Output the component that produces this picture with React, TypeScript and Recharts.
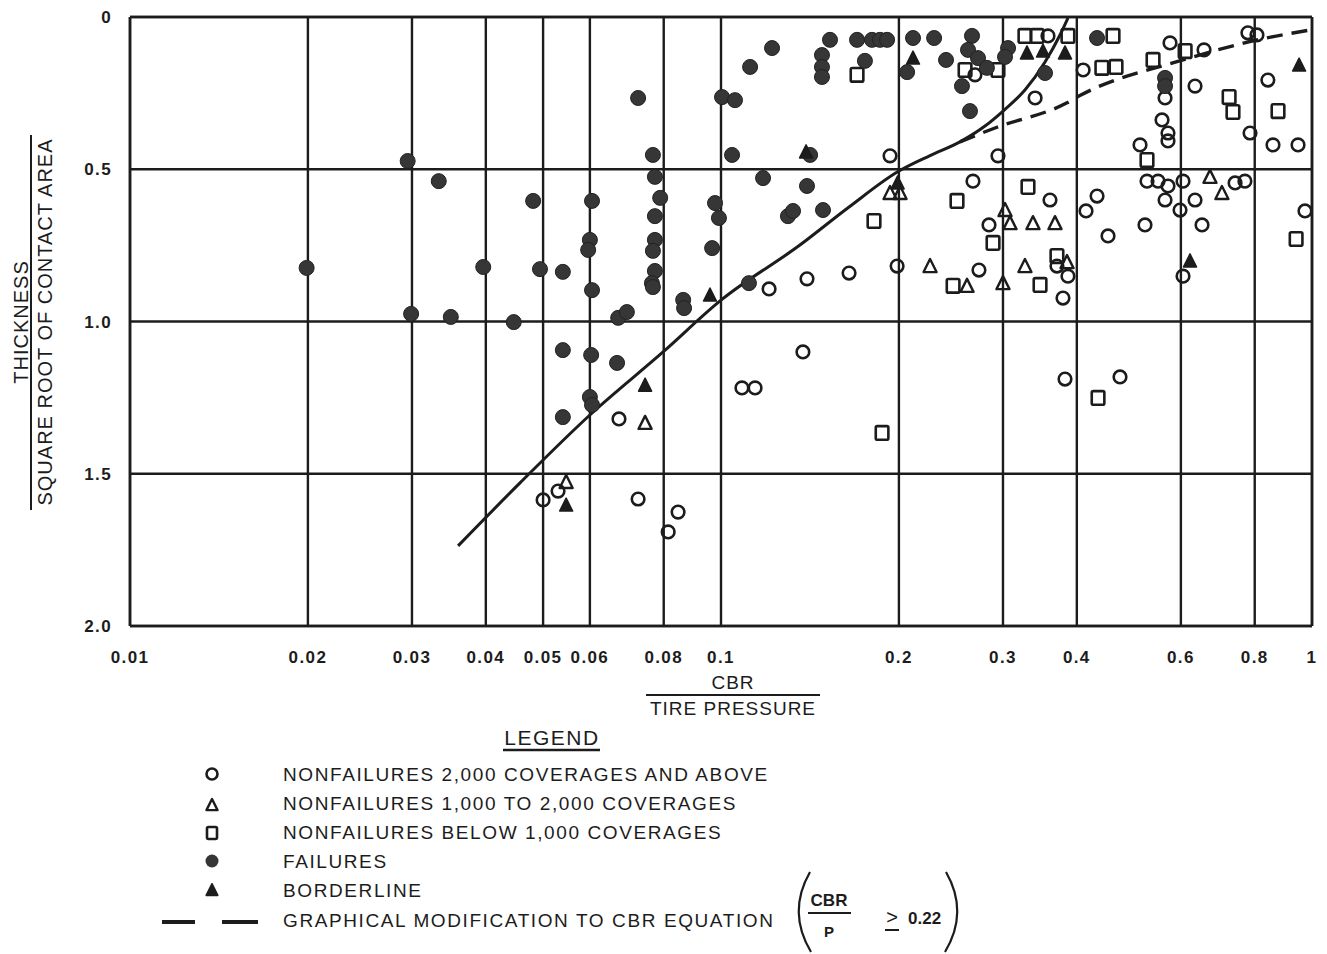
import React from 'react';
import { ScatterChart, Scatter, XAxis, YAxis, CartesianGrid } from 'recharts';

// ---------- DATA (x = CBR / tire pressure, y = thickness / sqrt(contact area)) ----------
const xTicks = [0.01, 0.02, 0.03, 0.04, 0.05, 0.06, 0.08, 0.1, 0.2, 0.3, 0.4, 0.6, 0.8, 1];
const yTicks = [0, 0.5, 1, 1.5, 2];
const xTickLabels = ['0.01', '0.02', '0.03', '0.04', '0.05', '0.06', '0.08', '0.1', '0.2', '0.3', '0.4', '0.6', '0.8', '1'];
const yTickLabels = ['0', '0.5', '1.0', '1.5', '2.0'];

const nonfail2000: [number, number][] = [
  [0.3575, 0.062], [0.269, 0.19], [0.34, 0.266], [0.1932, 0.456], [0.2942, 0.456], [0.2669, 0.539],
  [0.3603, 0.601], [0.2841, 0.683], [0.1986, 0.818], [0.1647, 0.841], [0.1398, 0.86], [0.2732, 0.831],
  [0.379, 0.923], [0.3702, 0.818], [0.3864, 0.851], [0.1206, 0.893], [0.5751, 0.085], [0.6566, 0.108],
  [0.779, 0.052], [0.807, 0.059], [0.41, 0.174], [0.634, 0.227], [0.842, 0.207], [0.5641, 0.266],
  [0.5575, 0.338], [0.5706, 0.381], [0.5706, 0.407], [0.5117, 0.42], [0.7855, 0.381], [0.859, 0.42],
  [0.947, 0.42], [0.5258, 0.539], [0.5489, 0.539], [0.5706, 0.555], [0.5641, 0.601], [0.605, 0.539],
  [0.598, 0.634], [0.634, 0.601], [0.741, 0.545], [0.77, 0.539], [0.4328, 0.588], [0.4146, 0.637],
  [0.5217, 0.683], [0.6515, 0.683], [0.4517, 0.719], [0.973, 0.637], [0.605, 0.851], [0.1376, 1.1],
  [0.1085, 1.218], [0.1142, 1.218], [0.0672, 1.32], [0.053, 1.557], [0.05, 1.586], [0.0724, 1.583],
  [0.0846, 1.626], [0.0814, 1.691], [0.382, 1.189], [0.4733, 1.182],
];

const nonfail1000: [number, number][] = [
  [0.0744, 1.333], [0.0547, 1.527], [0.1932, 0.578], [0.2009, 0.578], [0.3024, 0.634], [0.3083, 0.677],
  [0.3372, 0.677], [0.3674, 0.677], [0.2258, 0.818], [0.2608, 0.883], [0.3, 0.874], [0.3268, 0.818],
  [0.385, 0.805], [0.672, 0.525], [0.704, 0.578],
];

const nonfailBelow: [number, number][] = [
  [0.1873, 1.366], [0.4345, 1.251], [0.1815, 0.67], [0.1699, 0.19], [0.247, 0.883], [0.2508, 0.604],
  [0.3307, 0.558], [0.2886, 0.742], [0.3466, 0.88], [0.3702, 0.785], [0.3268, 0.062], [0.3425, 0.062],
  [0.3864, 0.062], [0.4606, 0.062], [0.2588, 0.174], [0.2942, 0.174], [0.441, 0.167], [0.466, 0.164],
  [0.5383, 0.141], [0.61, 0.112], [0.724, 0.263], [0.735, 0.312], [0.876, 0.309], [0.94, 0.729],
  [0.5258, 0.47],
];

const failures: [number, number][] = [
  [0.0199, 0.824], [0.0295, 0.473], [0.0299, 0.975], [0.0333, 0.539], [0.0349, 0.985], [0.0396, 0.821],
  [0.0446, 1.002], [0.0481, 0.604], [0.0494, 0.828], [0.054, 0.837], [0.054, 1.094], [0.054, 1.314],
  [0.0605, 0.604], [0.06, 0.732], [0.0596, 0.765], [0.0605, 0.897], [0.0603, 1.11], [0.06, 1.248],
  [0.0605, 1.274], [0.0667, 1.136], [0.067, 0.988], [0.0693, 0.969], [0.0724, 0.266], [0.0767, 0.453],
  [0.0773, 0.525], [0.0789, 0.594], [0.0773, 0.654], [0.0773, 0.732], [0.0767, 0.768], [0.0773, 0.834],
  [0.0764, 0.874], [0.0767, 0.887], [0.0863, 0.929], [0.0866, 0.956], [0.0966, 0.759], [0.0977, 0.611],
  [0.0992, 0.66], [0.1004, 0.263], [0.1056, 0.273], [0.1044, 0.453], [0.112, 0.164], [0.122, 0.102],
  [0.1178, 0.529], [0.1115, 0.874], [0.1298, 0.654], [0.1324, 0.637], [0.1415, 0.453], [0.1398, 0.555],
  [0.1488, 0.634], [0.1482, 0.125], [0.1482, 0.164], [0.1482, 0.197], [0.1529, 0.075], [0.1699, 0.075],
  [0.1801, 0.075], [0.1858, 0.075], [0.191, 0.075], [0.1752, 0.144], [0.2113, 0.069], [0.2294, 0.069],
  [0.2403, 0.141], [0.2659, 0.062], [0.2618, 0.108], [0.2722, 0.135], [0.2818, 0.167], [0.2557, 0.227],
  [0.2638, 0.309], [0.306, 0.102], [0.3024, 0.131], [0.3534, 0.184], [0.4328, 0.069], [0.5641, 0.2],
  [0.5641, 0.227], [0.2065, 0.181],
];

const borderline: [number, number][] = [
  [0.0958, 0.913], [0.1393, 0.443], [0.2113, 0.135], [0.3294, 0.118], [0.3506, 0.112], [0.382, 0.118],
  [0.951, 0.158], [0.0744, 1.209], [0.0547, 1.603], [0.6217, 0.801], [0.199, 0.545],
];

const cbrCurve: [number, number][] = [
  [0.0359, 1.737], [0.0457, 1.53], [0.06, 1.307], [0.0798, 1.1], [0.1, 0.93], [0.136, 0.749],
  [0.1647, 0.624], [0.2, 0.506], [0.2258, 0.455], [0.2537, 0.41], [0.2797, 0.358], [0.3024, 0.303],
  [0.3268, 0.24], [0.3534, 0.148], [0.3746, 0.059], [0.3864, 0.003],
];

const modifiedCurve: [number, number][] = [
  [0.2537, 0.41], [0.293, 0.362], [0.385, 0.282], [0.404, 0.259], [0.605, 0.141], [0.807, 0.0755], [0.992, 0.043],
];

const legendItems = [
  'NONFAILURES 2,000 COVERAGES AND ABOVE',
  'NONFAILURES 1,000 TO 2,000 COVERAGES',
  'NONFAILURES BELOW 1,000 COVERAGES',
  'FAILURES',
  'BORDERLINE',
  'GRAPHICAL MODIFICATION TO CBR EQUATION',
];

// ---------- helpers ----------
const toPts = (arr: [number, number][]) => arr.map(([x, y]) => ({ x, y }));
const INK = '#1c1c1c';
const FONT = '"Liberation Sans", Arial, Helvetica, sans-serif';

const OpenCircle = (p: any) => <circle cx={p.cx} cy={p.cy} r={6.3} fill="none" stroke={INK} strokeWidth={2.6} />;
const FilledCircle = (p: any) => <circle cx={p.cx} cy={p.cy} r={7.5} fill="#363636" stroke="#222" strokeWidth={1} />;
const OpenSquare = (p: any) => (
  <rect x={p.cx - 6.3} y={p.cy - 6.8} width={12.6} height={13.6} rx={1.5} fill="none" stroke={INK} strokeWidth={2.6} />
);
const triPath = (cx: number, cy: number, s = 1) =>
  `M${cx},${cy - 7 * s} L${cx + 6.5 * s},${cy + 6 * s} L${cx - 6.5 * s},${cy + 6 * s} Z`;
const OpenTri = (p: any) => <path d={triPath(p.cx, p.cy)} fill="none" stroke={INK} strokeWidth={2.4} strokeLinejoin="round" />;
const FilledTri = (p: any) => <path d={triPath(p.cx, p.cy)} fill="#1c1c1c" stroke={INK} strokeWidth={1.5} strokeLinejoin="round" />;
const NoShape = () => <g />;

const W = 1311;
const H = 946;

export default function App() {
  const xFmt = (v: number) => {
    const i = xTicks.indexOf(v);
    return i >= 0 ? xTickLabels[i] : String(v);
  };
  const yFmt = (v: number) => {
    const i = yTicks.indexOf(v);
    return i >= 0 ? yTickLabels[i] : String(v);
  };
  const tickStyle = { fill: INK, fontSize: 17, fontWeight: 700, fontFamily: FONT, letterSpacing: 1.4 };

  // legend layout (overlay coordinates = page - 8)
  const rowY = [766, 795, 824, 853, 882, 912];
  const symX = 204;
  const textX = 275;
  const lt = { fontFamily: FONT, fontSize: 19, fill: INK, letterSpacing: 1.6 };

  return (
    <div style={{ position: 'relative', width: W, height: H, background: '#fff' }}>
      <ScatterChart width={W} height={660} margin={{ top: 9, right: 7, bottom: 0, left: 0 }}>
        <CartesianGrid stroke={INK} strokeWidth={2.4} />
        <XAxis
          type="number"
          dataKey="x"
          scale="log"
          domain={[0.01, 1]}
          ticks={xTicks}
          tickFormatter={xFmt}
          interval={0}
          allowDataOverflow
          height={42}
          tickSize={0}
          tickMargin={25}
          axisLine={{ stroke: INK, strokeWidth: 2.6 }}
          tick={tickStyle}
        />
        <YAxis
          type="number"
          dataKey="y"
          domain={[0, 2]}
          reversed
          ticks={yTicks}
          tickFormatter={yFmt}
          interval={0}
          allowDataOverflow
          width={122}
          tickSize={0}
          tickMargin={18}
          axisLine={{ stroke: INK, strokeWidth: 2.6 }}
          tick={tickStyle}
        />
        <Scatter data={toPts(cbrCurve)} line={{ stroke: INK, strokeWidth: 3 }} lineType="joint" lineJointType="monotoneX" shape={NoShape} isAnimationActive={false} />
        <Scatter data={toPts(modifiedCurve)} line={{ stroke: INK, strokeWidth: 3.4, strokeDasharray: '16 9' }} lineType="joint" lineJointType="monotoneX" shape={NoShape} isAnimationActive={false} />
        <Scatter data={toPts(nonfail2000)} shape={OpenCircle} isAnimationActive={false} />
        <Scatter data={toPts(nonfail1000)} shape={OpenTri} isAnimationActive={false} />
        <Scatter data={toPts(nonfailBelow)} shape={OpenSquare} isAnimationActive={false} />
        <Scatter data={toPts(failures)} shape={FilledCircle} isAnimationActive={false} />
        <Scatter data={toPts(borderline)} shape={FilledTri} isAnimationActive={false} />
      </ScatterChart>

      <svg width={W} height={H} style={{ position: 'absolute', left: 0, top: 0, pointerEvents: 'none' }}>
        {/* frame top/right reinforcement */}
        <line x1={122} y1={9} x2={1304} y2={9} stroke={INK} strokeWidth={2.6} />
        <line x1={1304} y1={9} x2={1304} y2={618} stroke={INK} strokeWidth={2.6} />

        {/* Y axis title */}
        <g transform="translate(13,314) rotate(-90)">
          <text x={0} y={0} textAnchor="middle" dominantBaseline="central" fontFamily={FONT} fontSize={20} letterSpacing={1} fill={INK}>THICKNESS</text>
        </g>
        <line x1={23} y1={127} x2={23} y2={502} stroke={INK} strokeWidth={2} />
        <g transform="translate(37,314) rotate(-90)">
          <text x={0} y={0} textAnchor="middle" dominantBaseline="central" fontFamily={FONT} fontSize={20} letterSpacing={1} fill={INK}>SQUARE ROOT OF CONTACT AREA</text>
        </g>

        {/* X axis title */}
        <text x={725} y={681} textAnchor="middle" fontFamily={FONT} fontSize={19} letterSpacing={1} fill={INK}>CBR</text>
        <line x1={638} y1={687} x2={812} y2={687} stroke={INK} strokeWidth={2} />
        <text x={725} y={707} textAnchor="middle" fontFamily={FONT} fontSize={19} letterSpacing={1} fill={INK}>TIRE PRESSURE</text>

        {/* Legend */}
        <text x={544} y={737} textAnchor="middle" fontFamily={FONT} fontSize={21} letterSpacing={1.5} fill={INK}>LEGEND</text>
        <line x1={495} y1={742} x2={592} y2={742} stroke={INK} strokeWidth={2.5} />

        <circle cx={symX} cy={rowY[0]} r={5.5} fill="none" stroke={INK} strokeWidth={2.6} />
        <path d={triPath(symX, rowY[1] + 2, 0.85)} fill="none" stroke={INK} strokeWidth={2.4} strokeLinejoin="round" />
        <rect x={symX - 5} y={rowY[2] - 5} width={10} height={12} rx={1.5} fill="none" stroke={INK} strokeWidth={2.6} />
        <circle cx={symX} cy={rowY[3]} r={6.5} fill="#363636" />
        <path d={triPath(symX, rowY[4], 0.9)} fill={INK} stroke={INK} strokeWidth={1.5} strokeLinejoin="round" />
        <line x1={154} y1={rowY[5] + 2} x2={187} y2={rowY[5] + 2} stroke={INK} strokeWidth={4} />
        <line x1={214} y1={rowY[5] + 2} x2={250} y2={rowY[5] + 2} stroke={INK} strokeWidth={4} />

        {legendItems.map((t, i) => (
          <text key={t} x={textX} y={rowY[i] + 7} {...lt}>{t}</text>
        ))}

        {/* equation */}
        <path d="M 802 864 Q 779 904 803 944" fill="none" stroke={INK} strokeWidth={2.2} />
        <text x={821} y={898} textAnchor="middle" fontFamily={FONT} fontSize={17} fontWeight={700} fill={INK}>CBR</text>
        <line x1={800} y1={905} x2={843} y2={905} stroke={INK} strokeWidth={2} />
        <text x={821} y={929} textAnchor="middle" fontFamily={FONT} fontSize={15} fontWeight={700} fill={INK}>P</text>
        <text x={884} y={916} textAnchor="middle" fontFamily={FONT} fontSize={20} fill={INK}>&gt;</text>
        <line x1={877} y1={922} x2={891} y2={922} stroke={INK} strokeWidth={2} />
        <text x={900} y={916} fontFamily={FONT} fontSize={17} fontWeight={700} fill={INK}>0.22</text>
        <path d="M 938 864 Q 961 904 937 944" fill="none" stroke={INK} strokeWidth={2.2} />
      </svg>
    </div>
  );
}
